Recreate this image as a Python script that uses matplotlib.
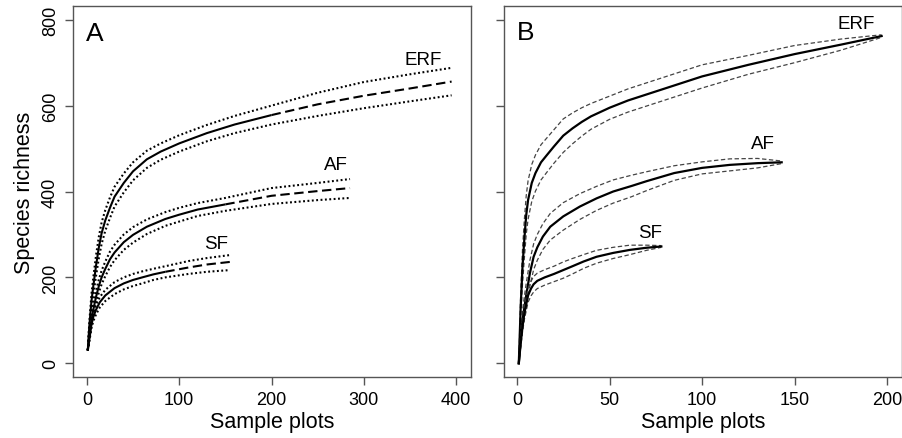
import matplotlib
matplotlib.use("Agg")
import matplotlib.pyplot as plt

plt.rcParams['font.family'] = ['Liberation Sans', 'DejaVu Sans']

# ---------------- Panel A (rarefaction + extrapolation) ----------------
ERF_A_obs_x = [1, 2, 3, 5, 7, 10, 13, 16, 20, 25, 30, 40, 50, 65, 80, 100, 130, 160, 200]
ERF_A_obs = [30, 65, 95, 145, 180, 228, 270, 303, 333, 362, 388, 420, 447, 475, 493, 512, 536, 556, 578]
ERF_A_obs_hi = [30, 71, 105, 161, 200, 252, 295, 328, 357, 386, 411, 442, 468, 495, 512, 531, 555, 576, 600]
ERF_A_obs_lo = [30, 59, 85, 129, 160, 204, 245, 278, 309, 338, 365, 398, 426, 455, 474, 493, 517, 536, 556]
ERF_A_ext_x = [200, 250, 300, 350, 395]
ERF_A_ext = [578, 603, 623, 640, 656]
ERF_A_ext_hi = [600, 630, 655, 673, 688]
ERF_A_ext_lo = [556, 576, 594, 610, 624]

AF_A_obs_x = [1, 2, 3, 5, 7, 10, 13, 16, 20, 25, 30, 40, 50, 65, 85, 100, 120, 150]
AF_A_obs = [30, 50, 70, 100, 125, 155, 180, 200, 220, 242, 258, 282, 299, 318, 336, 346, 358, 370]
AF_A_obs_hi = [30, 54, 77, 110, 137, 169, 195, 216, 237, 260, 276, 300, 317, 335, 352, 362, 373, 385]
AF_A_obs_lo = [30, 46, 63, 90, 113, 141, 165, 184, 203, 224, 240, 264, 281, 301, 320, 330, 343, 355]
AF_A_ext_x = [150, 200, 250, 285]
AF_A_ext = [370, 390, 401, 408]
AF_A_ext_hi = [385, 408, 420, 429]
AF_A_ext_lo = [355, 371, 380, 385]

SF_A_obs_x = [1, 2, 3, 5, 7, 10, 14, 20, 30, 40, 50, 60, 72, 85]
SF_A_obs = [30, 45, 60, 90, 108, 125, 142, 158, 175, 186, 194, 200, 207, 213]
SF_A_obs_hi = [30, 48, 65, 98, 118, 136, 154, 171, 189, 200, 208, 214, 220, 226]
SF_A_obs_lo = [30, 42, 55, 82, 98, 114, 130, 145, 161, 172, 180, 186, 194, 200]
SF_A_ext_x = [85, 110, 130, 155]
SF_A_ext = [213, 223, 230, 236]
SF_A_ext_hi = [226, 238, 245, 252]
SF_A_ext_lo = [200, 208, 213, 217]

# ---------------- Panel B (sample-based rarefaction) ----------------
ERF_B_x = [1, 2, 3, 4, 5, 6, 8, 10, 13, 16, 20, 25, 30, 35, 40, 50, 60, 70, 85, 100, 125, 150, 175, 197]
ERF_B = [0, 130, 225, 290, 345, 380, 420, 443, 468, 484, 505, 530, 547, 562, 575, 595, 612, 626, 647, 668, 695, 720, 742, 762]
ERF_B_hi = [0, 160, 265, 335, 390, 425, 463, 485, 509, 524, 544, 569, 583, 595, 605, 622, 639, 653, 674, 695, 717, 740, 755, 765]
ERF_B_lo = [0, 100, 185, 245, 300, 335, 377, 401, 427, 444, 466, 491, 511, 529, 545, 568, 585, 599, 620, 641, 673, 700, 729, 759]

AF_B_x = [1, 2, 3, 4, 5, 7, 9, 11, 14, 18, 25, 34, 43, 52, 62, 70, 85, 100, 115, 130, 143]
AF_B = [0, 55, 100, 130, 158, 210, 248, 270, 295, 318, 342, 365, 384, 400, 413, 424, 443, 455, 462, 466, 468]
AF_B_hi = [0, 70, 122, 156, 186, 240, 278, 300, 325, 349, 374, 395, 412, 427, 438, 446, 460, 469, 476, 477, 471]
AF_B_lo = [0, 40, 78, 104, 130, 180, 218, 240, 265, 287, 310, 335, 356, 373, 388, 402, 426, 441, 448, 455, 465]

SF_B_x = [1, 2, 3, 4, 5, 6, 7.6, 9, 11, 15, 20, 25, 30, 36, 43, 52, 61, 70, 78]
SF_B = [0, 45, 85, 116, 137, 158, 174, 184, 192, 200, 208, 217, 226, 237, 248, 257, 264, 269, 272]
SF_B_hi = [0, 53, 97, 130, 152, 174, 191, 202, 210, 218, 226, 236, 244, 253, 263, 270, 275, 275, 274]
SF_B_lo = [0, 37, 73, 102, 122, 142, 157, 166, 174, 182, 190, 198, 208, 221, 233, 244, 253, 263, 270]

labels = ["ERF", "AF", "SF"]
labels_A_pos = [(364, 708), (270, 462), (140, 279)]
labels_B_pos = [(183, 792), (133, 512), (72, 305)]

xticks_A = [0, 100, 200, 300, 400]
xticks_B = [0, 50, 100, 150, 200]
yticks = [0, 200, 400, 600, 800]

fig = plt.figure(figsize=(9.03, 4.39), dpi=100)
axA = fig.add_axes([73/903, 1-378/439, 398/903, 371/439])
axB = fig.add_axes([504/903, 1-378/439, 398/903, 371/439])

solid_kw = dict(color='black', lw=1.5, solid_capstyle='butt')
dot_kw = dict(color='black', lw=1.5, linestyle=(0, (0.9, 1.2)))
dash_kw = dict(color='black', lw=1.5, linestyle=(0, (4.5, 2.2)))

groups_A = [
    (ERF_A_obs_x, ERF_A_obs, ERF_A_obs_hi, ERF_A_obs_lo, ERF_A_ext_x, ERF_A_ext, ERF_A_ext_hi, ERF_A_ext_lo),
    (AF_A_obs_x, AF_A_obs, AF_A_obs_hi, AF_A_obs_lo, AF_A_ext_x, AF_A_ext, AF_A_ext_hi, AF_A_ext_lo),
    (SF_A_obs_x, SF_A_obs, SF_A_obs_hi, SF_A_obs_lo, SF_A_ext_x, SF_A_ext, SF_A_ext_hi, SF_A_ext_lo),
]
for ox, om, oh, ol, ex, em, eh, el in groups_A:
    axA.plot(ox + ex[1:], oh + eh[1:], **dot_kw)
    axA.plot(ox + ex[1:], ol + el[1:], **dot_kw)
    axA.plot(ox, om, **solid_kw)
    axA.plot(ex, em, **dash_kw)

groups_B = [
    (ERF_B_x, ERF_B, ERF_B_hi, ERF_B_lo),
    (AF_B_x, AF_B, AF_B_hi, AF_B_lo),
    (SF_B_x, SF_B, SF_B_hi, SF_B_lo),
]
for x, m, h, l in groups_B:
    axB.plot(x, h, color='#444444', lw=0.9, linestyle=(0, (3.5, 2)))
    axB.plot(x, l, color='#444444', lw=0.9, linestyle=(0, (3.5, 2)))
    axB.plot(x, m, color='black', lw=1.6)

for lab, (x, y) in zip(labels, labels_A_pos):
    axA.text(x, y, lab, fontsize=13.5, ha='center', va='center')
for lab, (x, y) in zip(labels, labels_B_pos):
    axB.text(x, y, lab, fontsize=13.5, ha='center', va='center')

axA.text(0.055, 0.927, "A", transform=axA.transAxes, fontsize=19, ha='center', va='center')
axB.text(0.055, 0.929, "B", transform=axB.transAxes, fontsize=19, ha='center', va='center')

axA.set_xlim(-15, 416)
axB.set_xlim(-7, 208)
for ax in (axA, axB):
    ax.set_ylim(-32, 832)
    ax.set_yticks(yticks)
    for s in ax.spines.values():
        s.set_color('#555555')
        s.set_linewidth(1.0)
    ax.tick_params(axis='both', direction='out', length=6, width=1.0, color='#555555',
                   labelsize=13, pad=4)
    ax.set_xlabel("Sample plots", fontsize=15.5, labelpad=2)

axA.set_xticks(xticks_A)
axB.set_xticks(xticks_B)
axA.set_yticklabels([str(v) for v in yticks], rotation=90, va='center')
axB.set_yticklabels([])
axA.set_ylabel("Species richness", fontsize=15.5, labelpad=5)

fig.savefig("out.png", dpi=100)
